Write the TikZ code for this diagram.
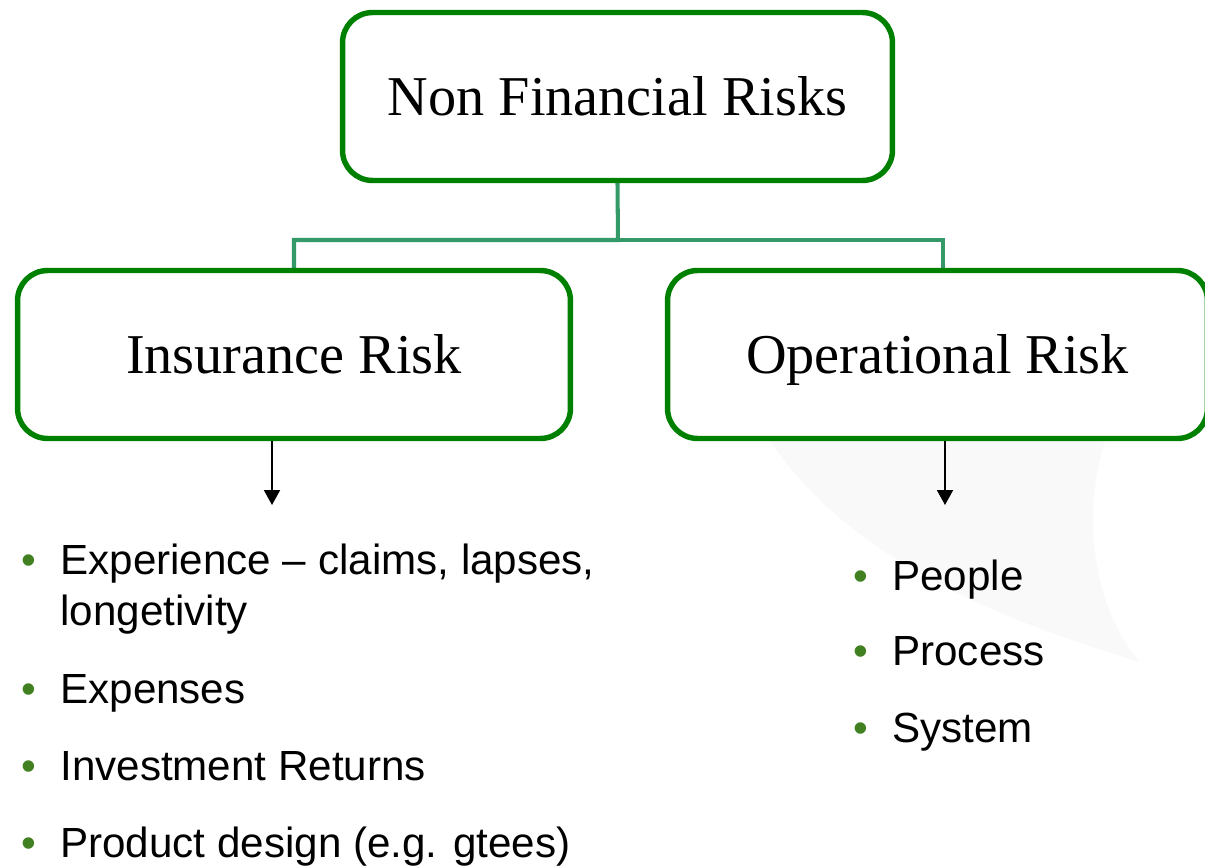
\documentclass[tikz,border=0pt]{standalone}
\usepackage{fontspec}
\setmainfont{Liberation Serif}
\setsansfont{Liberation Sans}
\usetikzlibrary{arrows.meta,backgrounds}
\definecolor{boxgreen}{RGB}{0,128,0}
\definecolor{linkgreen}{RGB}{51,153,102}
\definecolor{bulletgreen}{RGB}{64,128,32}
\newcommand{\bul}{\llap{\textcolor{bulletgreen}{\textbullet}\hspace{0.49cm}}}

\begin{document}
\begin{tikzpicture}[x=0.02cm,y=-0.02cm,
  riskbox/.style={draw=boxgreen,line width=3.1pt,rounded corners=0.6cm,fill=white,
    minimum height=3.36cm,text height=22pt,text depth=0pt,
    font=\fontsize{32}{38}\selectfont},
  link/.style={draw=linkgreen,line width=2.3pt},
  pointer/.style={-{Triangle[width=0.32cm,length=0.3cm]},line width=1.1pt},
  item/.style={anchor=base west,inner sep=0pt,align=left,
    font=\sffamily\fontsize{24}{28.5}\selectfont}]
  \clip (0,0) rectangle (1205,866);
  % faint backdrop behind the right column
  \fill[black!2.5] (770,441) .. controls (850,560) and (1000,620) .. (1140,662)
    .. controls (1095,610) and (1080,520) .. (1105,441) -- cycle;
  \node[riskbox,minimum width=11cm] (nfr) at (617.5,96.5) {Non Financial Risks};
  \node[riskbox,minimum width=11.06cm] (ins) at (294,354.5) {Insurance Risk};
  \node[riskbox,minimum width=10.8cm] (ops) at (937.5,354.5) {Operational Risk};
  \coordinate (split) at (618,240);
  \begin{pgfonlayer}{background}
    \draw[link] (nfr.south) -- (split) -| (ins.north);
    \draw[link] (split) -| ([xshift=0.11cm]ops.north);
  \end{pgfonlayer}
  \coordinate (insend) at (272,505);
  \coordinate (opsend) at (945,505);
  \draw[pointer] ([xshift=-0.44cm]ins.south) -- (insend);
  \draw[pointer] ([xshift=0.15cm]ops.south) -- (opsend);
  % insurance risk items (base = last line)
  \node[item] (exp) at (60,625) {\bul Experience – claims, lapses,\\longetivity};
  \node[item] (expn) at (60,703) {\bul Expenses};
  \node[item] (inv) at (60,780) {\bul Investment Returns};
  \node[item] (prod) at (60,857) {\bul Product design (e.g. gtees)};
  % operational risk items
  \node[item] (ppl) at (892,590) {\bul People};
  \node[item] (proc) at (892,665) {\bul Process};
  \node[item] (sys) at (892,742) {\bul System};
\end{tikzpicture}
\end{document}
